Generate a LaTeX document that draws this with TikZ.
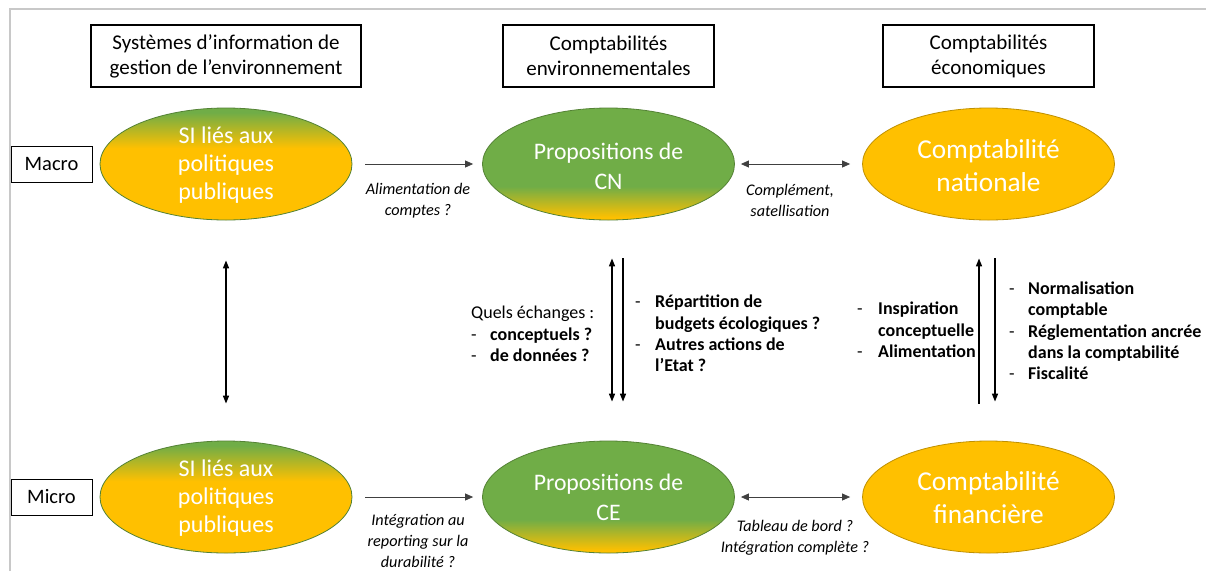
\documentclass[tikz,border=0pt]{standalone}
\usepackage{fontspec}
\setmainfont{Carlito}
\usetikzlibrary{shapes.geometric,arrows.meta}
\definecolor{gold}{HTML}{FFC000}
\definecolor{leaf}{HTML}{70AD47}
\definecolor{framegray}{HTML}{C8C8C8}
\pgfdeclareverticalshading{sishade}{100bp}{color(0bp)=(gold); color(57bp)=(gold); color(73bp)=(leaf); color(100bp)=(leaf)}
\pgfdeclareverticalshading{cnshade}{100bp}{color(0bp)=(gold); color(26bp)=(gold); color(40bp)=(leaf); color(100bp)=(leaf)}
\begin{document}
\begin{tikzpicture}[x=1pt,y=-1pt,
 header/.style={draw=black, line width=1.1pt, fill=white, minimum width=211pt, minimum height=62pt, align=center, inner sep=0pt, font=\fontsize{21}{25}\selectfont},
 level/.style={draw=black, line width=1pt, fill=white, minimum width=81pt, minimum height=36pt, inner sep=0pt, font=\fontsize{20.5}{22}\selectfont},
 blob/.style={ellipse, minimum width=252pt, minimum height=112pt, inner sep=0pt, line width=0.8pt},
 greenblob/.style={blob, draw=leaf!75!black, shading=cnshade},
 siblob/.style={blob, draw=leaf!75!black, shading=sishade},
 goldblob/.style={blob, draw=gold!75!black, fill=gold},
 blobtext/.style={text=white, align=center, inner sep=0pt, font=\fontsize{24}{28}\selectfont},
 cntext/.style={text=white, align=center, inner sep=0pt, font=\fontsize{23.7}{30}\selectfont},
 bigtext/.style={text=white, align=center, inner sep=0pt, font=\fontsize{27.3}{33}\selectfont},
 flow/.style={draw=black!75, line width=0.8pt, -{Triangle[length=8pt,width=7pt]}},
 both/.style={draw=black!75, line width=0.8pt, {Triangle[length=8pt,width=7pt]}-{Triangle[length=8pt,width=7pt]}},
 vflow/.style={draw=black, line width=1.5pt},
 note/.style={align=center, inner sep=0pt, font=\fontsize{16.2}{21}\selectfont\itshape},
 list/.style={anchor=west, inner sep=0pt, font=\fontsize{18}{21.3}\selectfont}
]
\useasboundingbox (0,0) rectangle (1206,571);
\fill[white] (0,0) rectangle (1206,571);
% frame
\draw[framegray, line width=2pt] (10,571) -- (10,9) -- (1206,9);

% headers
\node[header, minimum width=270pt] (h1) at (226,56) {Systèmes d’information de\\gestion de l’environnement};
\node[header] (h2) at (608.5,56) {Comptabilités\\environnementales};
\node[header] (h3) at (988.5,56) {Comptabilités\\économiques};

% levels
\node[level] (macro) at (51.5,164) {Macro};
\node[level] (micro) at (51.5,497) {Micro};

% ellipses
\node[siblob] (si1) at (226,164) {};
\node[greenblob] (cn) at (608.5,164) {};
\node[goldblob] (nat) at (988.5,164) {};
\node[siblob] (si2) at (226,497) {};
\node[greenblob] (ce) at (608.5,497) {};
\node[goldblob] (fin) at (988.5,497) {};

\node[blobtext] (si1t) at (226,165) {SI liés aux\\politiques\\publiques};
\node[cntext] (cnt) at (608.5,166) {Propositions de\\CN};
\node[bigtext] (natt) at (988.5,165.5) {Comptabilité\\nationale};
\node[blobtext] (si2t) at (226,498) {SI liés aux\\politiques\\publiques};
\node[cntext] (cet) at (608.5,497.5) {Propositions de\\CE};
\node[bigtext] (fint) at (988.5,497.5) {Comptabilité\\financière};

% horizontal connectors
\draw[flow, shorten <=13pt, shorten >=9pt] (si1) -- (cn);
\draw[both, shorten <=6pt, shorten >=12pt] (cn) -- (nat);
\draw[flow, shorten <=13pt, shorten >=9pt] (si2) -- (ce);
\draw[both, shorten <=6pt, shorten >=12pt] (ce) -- (fin);

\node[note] (n1) at (418,200.5) {Alimentation de\\comptes ?};
\node[note] (n2) at (790,200.5) {Complément,\\satellisation};
\node[note] (n3) at (418,541) {Intégration au\\reporting sur la\\durabilité ?};
\node[note] (n4) at (795,537.5) {Tableau de bord ?\\Intégration complète ?};

% vertical connectors
\draw[vflow, {Triangle[length=8pt,width=6pt]}-{Triangle[length=8pt,width=6pt]}] ([yshift=-40pt]si1.south) -- ([yshift=37pt]si2.north);
\draw[vflow, {Triangle[length=8pt,width=6pt]}-{Triangle[length=8pt,width=6pt]}] ([xshift=3.5pt,yshift=-38pt]cn.south) -- ([xshift=3.5pt,yshift=39pt]ce.north);
\draw[vflow, -{Triangle[length=8pt,width=6pt]}] ([xshift=14.5pt,yshift=-38pt]cn.south) -- ([xshift=14.5pt,yshift=39pt]ce.north);
\draw[vflow, {Triangle[length=8pt,width=6pt]}-] ([xshift=-9.5pt,yshift=-38pt]nat.south) -- ([xshift=-9.5pt,yshift=37pt]fin.north);
\draw[vflow, -{Triangle[length=8pt,width=6pt]}] ([xshift=6.5pt,yshift=-38pt]nat.south) -- ([xshift=6.5pt,yshift=39pt]fin.north);

% lists
\node[list] (qe) at (471,336) {\begin{tabular}{@{}l@{}l@{}}
\multicolumn{2}{@{}l@{}}{Quels échanges :}\\
\makebox[19pt][l]{-} & \textbf{conceptuels ?}\\
\makebox[19pt][l]{-} & \textbf{de données ?}
\end{tabular}};
\node[list] (rep) at (635,335.5) {\begin{tabular}{@{}l@{}l@{}}
\makebox[20pt][l]{-} & \textbf{Répartition de}\\
 & \textbf{budgets écologiques ?}\\
\makebox[20pt][l]{-} & \textbf{Autres actions de}\\
 & \textbf{l’Etat ?}
\end{tabular}};
\node[list] (insp) at (857,332) {\begin{tabular}{@{}l@{}l@{}}
\makebox[21pt][l]{-} & \textbf{Inspiration}\\
 & \textbf{conceptuelle}\\
\makebox[21pt][l]{-} & \textbf{Alimentation}
\end{tabular}};
\node[list] (norm) at (1009,333) {\begin{tabular}{@{}l@{}l@{}}
\makebox[19pt][l]{-} & \textbf{Normalisation}\\
 & \textbf{comptable}\\
\makebox[19pt][l]{-} & \textbf{Réglementation ancrée}\\
 & \textbf{dans la comptabilité}\\
\makebox[19pt][l]{-} & \textbf{Fiscalité}
\end{tabular}};
\end{tikzpicture}
\end{document}
